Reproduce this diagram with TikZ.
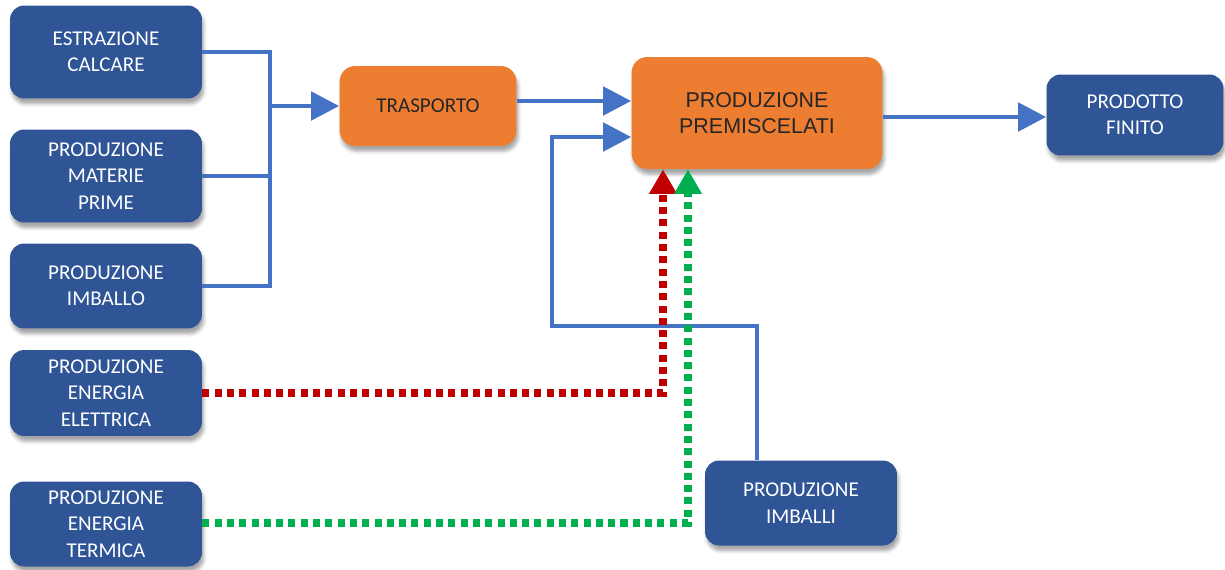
\documentclass[tikz,border=0pt]{standalone}
\usepackage{fontspec}
\setmainfont{Carlito}
\newfontfamily\arialfont{Liberation Sans}
\usetikzlibrary{arrows.meta,shadows.blur}

\definecolor{boxblue}{HTML}{2F5597}
\definecolor{lineblue}{HTML}{4472C4}
\definecolor{boxorange}{HTML}{ED7D31}
\definecolor{dotred}{HTML}{C00000}
\definecolor{dotgreen}{HTML}{00B050}

\tikzset{
  bluebox/.style={draw=none,fill=boxblue,text=white,rounded corners=8pt,
    minimum width=3.84cm,align=center,font=\fontsize{12}{15}\selectfont,
    blur shadow={shadow xshift=1pt,shadow yshift=-3pt,shadow opacity=35}},
  orangebox/.style={draw=none,fill=boxorange,text=black!85,rounded corners=9pt,
    align=center,blur shadow={shadow xshift=1pt,shadow yshift=-3pt,shadow opacity=35}},
  flow/.style={lineblue,line width=2.8pt},
  flowarrow/.style={flow,-{Triangle[length=16pt,width=16pt]}},
  dotline/.style={line width=4pt,dash pattern=on 4pt off 3pt,
    -{Triangle[length=14pt,width=15pt]}}
}

\begin{document}
\begin{tikzpicture}[x=0.02cm,y=-0.02cm]
\useasboundingbox (0,0) rectangle (1225,569);

% sources on the left
\node[bluebox,minimum height=1.86cm] (estr) at (106,52) {ESTRAZIONE\\CALCARE};
\node[bluebox,minimum height=1.86cm] (mat) at (106,176) {PRODUZIONE\\MATERIE\\PRIME};
\node[bluebox,minimum height=1.7cm] (imb) at (106,286) {PRODUZIONE\\IMBALLO};
\node[bluebox,minimum height=1.72cm] (elet) at (106,393) {PRODUZIONE\\ENERGIA\\ELETTRICA};
\node[bluebox,minimum height=1.7cm] (term) at (106,524) {PRODUZIONE\\ENERGIA\\TERMICA};

% process
\node[orangebox,minimum width=3.54cm,minimum height=1.6cm,font=\fontsize{12}{15}\selectfont] (trasp) at (428,106) {TRASPORTO};
\node[orangebox,minimum width=5.02cm,minimum height=2.24cm,font=\arialfont\fontsize{12.2}{14.7}\selectfont] (prem) at (757,113) {PRODUZIONE\\PREMISCELATI};
\node[bluebox,minimum width=3.54cm,minimum height=1.62cm] (fin) at (1135,115) {PRODOTTO\\FINITO};
\node[bluebox,minimum height=1.7cm] (imbi) at (801,503) {PRODUZIONE\\IMBALLI};

% collector line
\coordinate (bus) at (270,106);
\draw[flow] (estr.east) -| (bus) |- (imb.east);
\draw[flow] (mat.east) -- (bus |- mat.east);
\draw[flowarrow] (bus) -- (trasp.west);

\draw[flowarrow] (trasp.east |- 0,101) -- (prem.west |- 0,101);
\draw[flowarrow] (prem.east |- 0,117) -- (fin.west |- 0,117);

% packaging loop
\coordinate (up) at (757,326);
\coordinate (side) at (552,137);
\draw[flowarrow] (imbi.north -| up) -- (up) -| (side) -- (side -| prem.west);

% energy
\coordinate (red) at (663,393);
\coordinate (green) at (688,523);
\draw[dotline,dotred] (elet.east |- red) -- (red) -- (red |- prem.south);
\draw[dotline,dotgreen] (term.east |- green) -- (green) -- (green |- prem.south);
\end{tikzpicture}
\end{document}
